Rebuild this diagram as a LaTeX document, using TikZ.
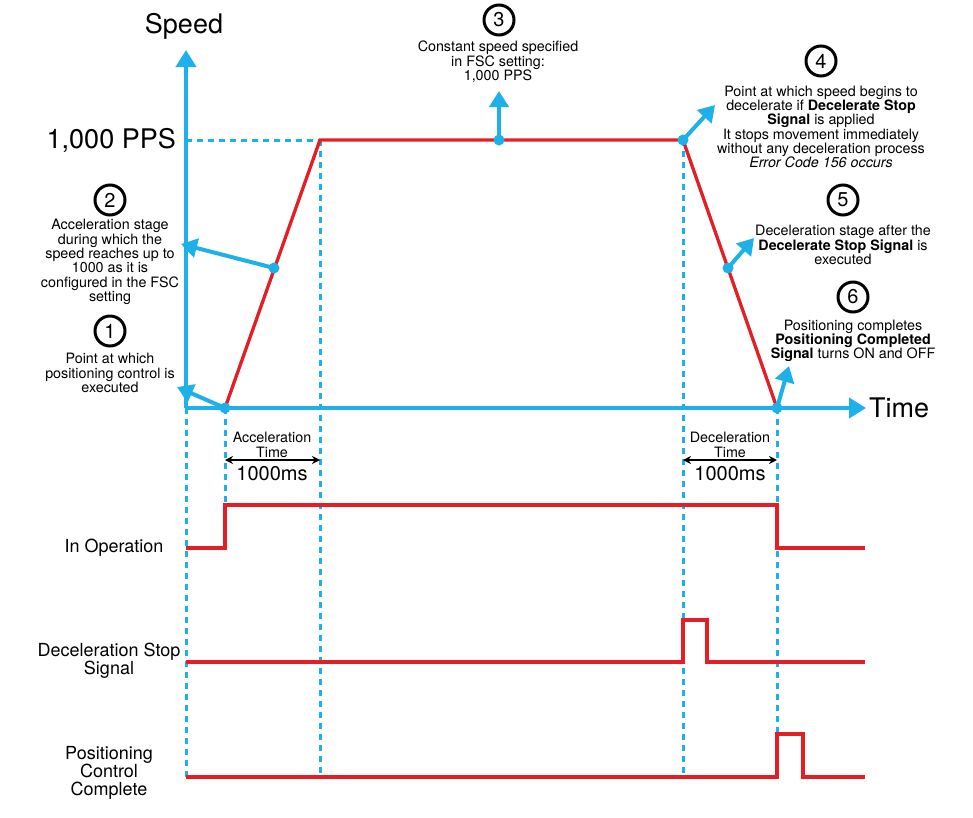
\documentclass[tikz,border=0pt]{standalone}
\usepackage{fontspec}
\setmainfont{TeX Gyre Heros}
\usetikzlibrary{arrows.meta}

\definecolor{axisblue}{RGB}{30,176,232}
\definecolor{sigred}{RGB}{227,30,36}

\tikzset{
    axis/.style={draw=axisblue, line width=4pt, -{Triangle[length=17pt,width=20pt]}},
    guide/.style={draw=axisblue, line width=3pt, dash pattern=on 6pt off 5pt},
    profile/.style={draw=sigred, line width=3.3pt, line join=miter},
    pointer/.style={draw=axisblue, line width=4pt, -{Triangle[length=16pt,width=19pt]}},
    markdot/.style={circle, fill=axisblue, inner sep=0pt, minimum size=11pt},
    stepnum/.style={circle, draw=black, line width=3pt, minimum size=30pt, inner sep=0pt,
        font=\fontsize{20}{20}\selectfont},
    note/.style={align=center, inner sep=0pt, font=\fontsize{14.3}{14.3}\selectfont},
    siglabel/.style={align=center, inner sep=0pt, font=\fontsize{18}{18}\selectfont},
    axislabel/.style={inner sep=0pt, font=\fontsize{27}{27}\selectfont},
    timespan/.style={draw=black, line width=1.5pt,
        {Stealth[length=8pt,width=8pt]}-{Stealth[length=8pt,width=8pt]}}
}

\begin{document}
\begin{tikzpicture}[x=1pt,y=-1pt]
    \useasboundingbox (0,0) rectangle (973,817);

    % Corners of the speed profile
    \coordinate (o) at (186,408);
    \coordinate (s0) at (225,408);
    \coordinate (s1) at (320,140);
    \coordinate (s2) at (683,140);
    \coordinate (s3) at (777,408);
    \coordinate (ytop) at (186,50);
    \coordinate (xend) at (866,408);
    \coordinate (pps) at (186,140);

    % Dashed guides
    \draw[guide] (pps) -- (s1);
    \draw[guide] (o) -- (186,777);
    \draw[guide] (s0) -- (225,505);
    \draw[guide] (s1) -- (320,777);
    \draw[guide] (s2) -- (683,777);
    \draw[guide] (s3) -- (777,734);

    % Axes
    \draw[axis] (o) -- (ytop);
    \draw[axis] (o) -- (xend);
    \node[axislabel] (speed) at (184,26) {Speed};
    \node[axislabel, anchor=west] (time) at (869,408) {Time};
    \node[axislabel, anchor=east] (ppslabel) at (176,140) {1,000 PPS};

    % Speed profile (red)
    \draw[profile] (s0) -- (s1) -- (s2) -- (s3);

    % Timing signals
    \draw[profile] (186,548) -- (225,548) -- (225,505) -- (777,505) -- (777,548) -- (865,548);
    \draw[profile] (186,662) -- (683,662) -- (683,620) -- (707,620) -- (707,662) -- (865,662);
    \draw[profile] (186,777) -- (777,777) -- (777,734) -- (803,734) -- (803,777) -- (865,777);
    \node[siglabel] (inop) at (114,548) {In Operation};
    \node[siglabel] (decstop) at (109,661) {Deceleration Stop\\Signal};
    \node[siglabel] (poscomp) at (109,773) {Positioning\\Control\\Complete};

    % Acceleration and deceleration times
    \node[note] (acctext) at (272,445) {Acceleration\\Time};
    \node[note] (dectext) at (730,445) {Deceleration\\Time};
    \coordinate (a0) at (225,460);
    \coordinate (a1) at (320,460);
    \coordinate (b0) at (683,460);
    \coordinate (b1) at (777,460);
    \draw[timespan] (a0) -- (a1);
    \draw[timespan] (b0) -- (b1);
    \node[inner sep=0pt, font=\fontsize{20}{20}\selectfont] (accms) at (272,474) {1000ms};
    \node[inner sep=0pt, font=\fontsize{20}{20}\selectfont] (decms) at (730,474) {1000ms};

    % Pointer ends
    \coordinate (t1) at (177,387);
    \coordinate (t2) at (181,244);
    \coordinate (t3) at (499,91);
    \coordinate (t4) at (715,105);
    \coordinate (t5) at (754,238);
    \coordinate (t6) at (789,366);

    % Marked points
    \node[markdot] (d1) at (s0) {};
    \node[markdot] (d2) at (274,268) {};
    \node[markdot] (d3) at (499,140) {};
    \node[markdot] (d4) at (s2) {};
    \node[markdot] (d5) at (728,268) {};
    \node[markdot] (d6) at (s3) {};

    \draw[pointer] (d1.center) -- (t1);
    \draw[pointer] (d2.center) -- (t2);
    \draw[pointer] (d3.center) -- (t3);
    \draw[pointer] (d4.center) -- (t4);
    \draw[pointer] (d5.center) -- (t5);
    \draw[pointer] (d6.center) -- (t6);

    % Numbered notes
    \node[stepnum] (n1) at (110,331) {1};
    \node[note] (note1) at (110,373) {Point at which\\positioning control is\\executed};

    \node[stepnum] (n2) at (110,200) {2};
    \node[note] (note2) at (110,262) {Acceleration stage\\during which the\\speed reaches up to\\1000 as it is\\configured in the FSC\\setting};

    \node[stepnum] (n3) at (499,20) {3};
    \node[note] (note3) at (498,62) {Constant speed specified\\in FSC setting:\\1,000 PPS};

    \node[stepnum] (n4) at (821,61) {4};
    \node[note] (note4) at (821,127) {Point at which speed begins to\\decelerate if \textbf{Decelerate Stop}\\\textbf{Signal} is applied\\It stops movement immediately\\without any deceleration process\\\textit{Error Code 156 occurs}};

    \node[stepnum] (n5) at (843,200) {5};
    \node[note] (note5) at (843,245) {Deceleration stage after the\\\textbf{Decelerate Stop Signal} is\\executed};

    \node[stepnum] (n6) at (853,297) {6};
    \node[note] (note6) at (853,341) {Positioning completes\\\textbf{Positioning Completed}\\\textbf{Signal} turns ON and OFF};

\end{tikzpicture}
\end{document}
